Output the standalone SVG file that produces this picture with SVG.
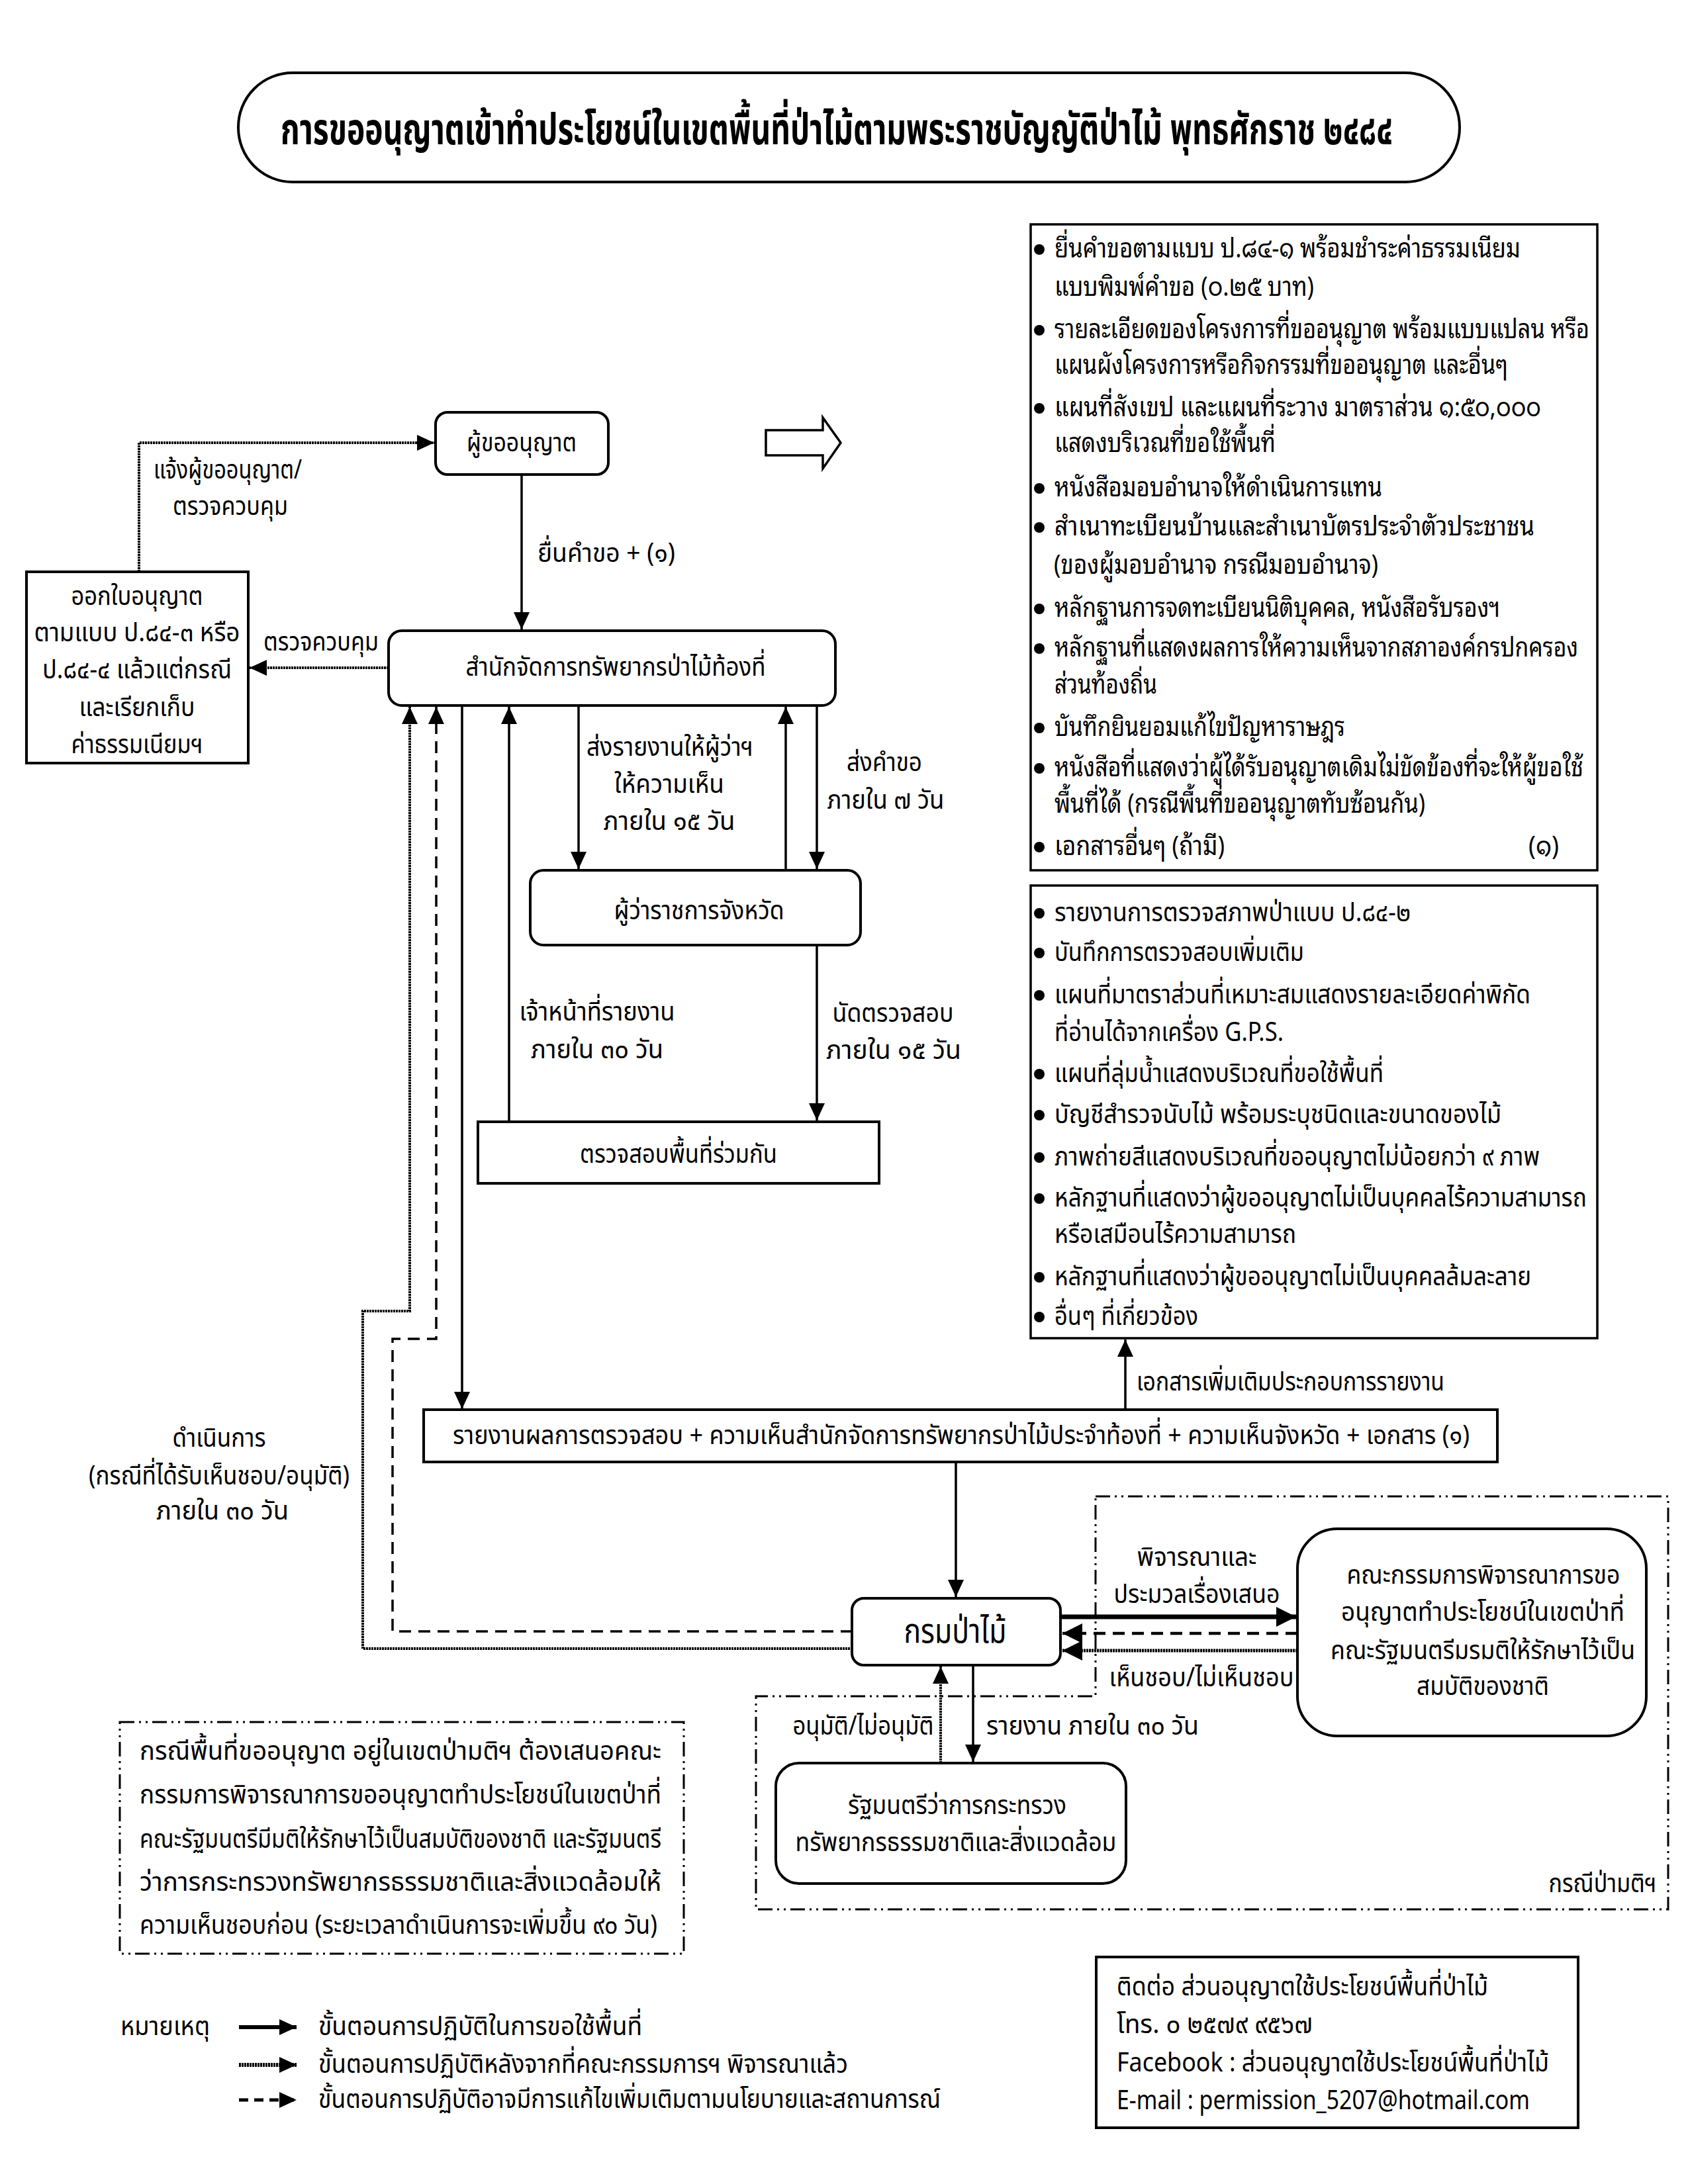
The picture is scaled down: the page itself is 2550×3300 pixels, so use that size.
<svg xmlns="http://www.w3.org/2000/svg" width="2550" height="3300" viewBox="0 0 2550 3300">
<style>
text{font-family:"Noto Sans Thai","Noto Sans Thai UI","Noto Sans Thai Looped","Noto Sans","DejaVu Sans",sans-serif;font-size:40px;fill:#000}
.lp{font-family:"Noto Sans Thai Looped","Noto Serif Thai","Noto Sans Thai","Noto Sans","DejaVu Sans",sans-serif}
.c{text-anchor:middle}
.box{fill:#fff;stroke:#000;stroke-width:4}
.dd{fill:none;stroke:#000;stroke-width:3;stroke-dasharray:22 7 3 7 3 7}
.s{fill:none;stroke:#000;stroke-width:3.5}
.d{fill:none;stroke:#000;stroke-width:3.5;stroke-dasharray:18 11}
.o{fill:none;stroke:#000;stroke-width:4;stroke-dasharray:3 1}
</style>
<defs>
<marker id="ah" markerUnits="userSpaceOnUse" markerWidth="26" markerHeight="24" refX="26" refY="12" orient="auto"><path d="M0,0 L26,12 L0,24 z" fill="#000"/></marker>
<marker id="ahL" markerUnits="userSpaceOnUse" markerWidth="30" markerHeight="30" refX="30" refY="15" orient="auto"><path d="M0,0 L30,15 L0,30 z" fill="#000"/></marker>
</defs>
<rect width="2550" height="3300" fill="#fff"/>

<g id="title">
<rect x="360" y="110" width="1845" height="165" rx="82" class="box"/>
<text x="1264" y="218" class="c" style="font-size:66px;font-weight:bold" textLength="1680" lengthAdjust="spacingAndGlyphs">การขออนุญาตเข้าทำประโยชน์ในเขตพื้นที่ป่าไม้ตามพระราชบัญญัติป่าไม้ พุทธศักราช ๒๔๘๔</text>
</g>

<g id="connectors">
<path class="o" d="M210,864 V669 H656" marker-end="url(#ah)"/>
<path class="s" d="M788,717 V951" marker-end="url(#ah)"/>
<path class="o" d="M587,1009 H377" marker-end="url(#ah)"/>
<path class="o" d="M1288,2491 H548 V1981 H619 V1068" marker-end="url(#ah)"/>
<path class="d" d="M1288,2465 H593 V2023 H659 V1068" marker-end="url(#ah)"/>
<path class="s" d="M698,1066 V2129" marker-end="url(#ah)"/>
<path class="s" d="M769,1695 V1068" marker-end="url(#ah)"/>
<path class="s" d="M874,1066 V1313" marker-end="url(#ah)"/>
<path class="s" d="M1187,1315 V1068" marker-end="url(#ah)"/>
<path class="s" d="M1234,1066 V1313" marker-end="url(#ah)"/>
<path class="s" d="M1234,1428 V1693" marker-end="url(#ah)"/>
<path class="s" d="M1700,2129 V2024" marker-end="url(#ah)"/>
<path class="s" d="M1444,2209 V2413" marker-end="url(#ah)"/>
<path class="s" d="M1603,2443 H1958" style="stroke-width:7" marker-end="url(#ahL)"/>
<path class="d" d="M1960,2468 H1605" style="stroke-width:4.5" marker-end="url(#ahL)"/>
<path class="o" d="M1960,2494 H1605" style="stroke-width:5" marker-end="url(#ahL)"/>
<path class="o" d="M1421,2664 V2518" marker-end="url(#ah)"/>
<path class="s" d="M1470,2516 V2662" marker-end="url(#ah)"/>
</g>

<g id="arrow-hollow">
<polygon points="1157,650 1243,650 1243,631 1270,669 1243,708 1243,688 1157,688" fill="#fff" stroke="#000" stroke-width="3.5"/>
</g>

<g id="n-applicant">
<rect x="658" y="623" width="261" height="94" rx="18" class="box"/>
<text x="788" y="682" class="c" textLength="166" lengthAdjust="spacingAndGlyphs">ผู้ขออนุญาต</text>
</g>

<g id="n-issue">
<rect x="40" y="864" width="335" height="289" class="box"/>
<text x="207" y="914" class="c" textLength="199" lengthAdjust="spacingAndGlyphs">ออกใบอนุญาต</text>
<text x="207" y="969" class="c" textLength="311" lengthAdjust="spacingAndGlyphs">ตามแบบ ป.๘๔-๓ หรือ</text>
<text x="207" y="1025" class="c" textLength="286" lengthAdjust="spacingAndGlyphs">ป.๘๔-๔ แล้วแต่กรณี</text>
<text x="207" y="1082" class="c" textLength="175" lengthAdjust="spacingAndGlyphs">และเรียกเก็บ</text>
<text x="207" y="1138" class="c" textLength="199" lengthAdjust="spacingAndGlyphs">ค่าธรรมเนียมฯ</text>
</g>

<g id="n-office">
<rect x="587" y="953" width="675" height="113" rx="20" class="box"/>
<text x="930" y="1021" class="c" textLength="453" lengthAdjust="spacingAndGlyphs">สำนักจัดการทรัพยากรป่าไม้ท้องที่</text>
</g>

<g id="n-governor">
<rect x="801" y="1315" width="499" height="113" rx="20" class="box"/>
<text x="1056" y="1389" class="c" textLength="257" lengthAdjust="spacingAndGlyphs">ผู้ว่าราชการจังหวัด</text>
</g>

<g id="n-inspect">
<rect x="722" y="1695" width="606" height="93" class="box"/>
<text x="1025" y="1757" class="c" textLength="298" lengthAdjust="spacingAndGlyphs">ตรวจสอบพื้นที่ร่วมกัน</text>
</g>

<g id="n-report">
<rect x="640" y="2130" width="1622" height="79" class="box"/>
<text x="684" y="2182" textLength="1536" lengthAdjust="spacingAndGlyphs">รายงานผลการตรวจสอบ + ความเห็นสำนักจัดการทรัพยากรป่าไม้ประจำท้องที่ + ความเห็นจังหวัด + เอกสาร (๑)</text>
</g>

<g id="n-dept">
<rect x="1287" y="2415" width="315" height="101" rx="18" class="box"/>
<text x="1443" y="2482" class="c" style="font-size:52px" textLength="155" lengthAdjust="spacingAndGlyphs">กรมป่าไม้</text>
</g>

<g id="region-cabinet">
<path class="dd" d="M1655,2261 H2520 V2885 H1142 V2563 H1655 Z"/>
<text x="2421" y="2859" class="c" textLength="163" lengthAdjust="spacingAndGlyphs">กรณีป่ามติฯ</text>
</g>

<g id="n-committee">
<rect x="1960" y="2310" width="527" height="313" rx="60" class="box"/>
<text x="2241" y="2393" class="c" textLength="413" lengthAdjust="spacingAndGlyphs">คณะกรรมการพิจารณาการขอ</text>
<text x="2240" y="2449" class="c" textLength="428" lengthAdjust="spacingAndGlyphs">อนุญาตทำประโยชน์ในเขตป่าที่</text>
<text x="2240" y="2507" class="c" textLength="460" lengthAdjust="spacingAndGlyphs">คณะรัฐมนตรีมรมติให้รักษาไว้เป็น</text>
<text x="2240" y="2561" class="c" textLength="200" lengthAdjust="spacingAndGlyphs">สมบัติของชาติ</text>
</g>

<g id="n-minister">
<rect x="1172" y="2664" width="529" height="182" rx="35" class="box"/>
<text x="1446" y="2741" class="c" textLength="330" lengthAdjust="spacingAndGlyphs">รัฐมนตรีว่าการกระทรวง</text>
<text x="1444" y="2797" class="c" textLength="485" lengthAdjust="spacingAndGlyphs">ทรัพยากรธรรมชาติและสิ่งแวดล้อม</text>
</g>

<g id="labels">
<text x="344" y="723" class="c" textLength="224" lengthAdjust="spacingAndGlyphs">แจ้งผู้ขออนุญาต/</text>
<text x="348" y="778" class="c" textLength="174" lengthAdjust="spacingAndGlyphs">ตรวจควบคุม</text>
<text x="812" y="849" textLength="208" lengthAdjust="spacingAndGlyphs">ยื่นคำขอ + (๑)</text>
<text x="485" y="983" class="c" textLength="174" lengthAdjust="spacingAndGlyphs">ตรวจควบคุม</text>
<text x="1012" y="1142" class="c" textLength="252" lengthAdjust="spacingAndGlyphs">ส่งรายงานให้ผู้ว่าฯ</text>
<text x="1011" y="1198" class="c" textLength="166" lengthAdjust="spacingAndGlyphs">ให้ความเห็น</text>
<text x="1011" y="1254" class="c" textLength="199" lengthAdjust="spacingAndGlyphs">ภายใน ๑๕ วัน</text>
<text x="1336" y="1165" class="c" textLength="114" lengthAdjust="spacingAndGlyphs">ส่งคำขอ</text>
<text x="1338" y="1222" class="c" textLength="177" lengthAdjust="spacingAndGlyphs">ภายใน ๗ วัน</text>
<text x="902" y="1542" class="c" textLength="235" lengthAdjust="spacingAndGlyphs">เจ้าหน้าที่รายงาน</text>
<text x="902" y="1599" class="c" textLength="200" lengthAdjust="spacingAndGlyphs">ภายใน ๓๐ วัน</text>
<text x="1349" y="1544" class="c" textLength="183" lengthAdjust="spacingAndGlyphs">นัดตรวจสอบ</text>
<text x="1350" y="1600" class="c" textLength="204" lengthAdjust="spacingAndGlyphs">ภายใน ๑๕ วัน</text>
<text x="331" y="2186" class="c" textLength="141" lengthAdjust="spacingAndGlyphs">ดำเนินการ</text>
<text x="331" y="2243" class="c" textLength="394" lengthAdjust="spacingAndGlyphs">(กรณีที่ได้รับเห็นชอบ/อนุมัติ)</text>
<text x="336" y="2296" class="c" textLength="200" lengthAdjust="spacingAndGlyphs">ภายใน ๓๐ วัน</text>
<text x="1717" y="2101" textLength="465" lengthAdjust="spacingAndGlyphs">เอกสารเพิ่มเติมประกอบการรายงาน</text>
<text x="1808" y="2366" class="c" textLength="181" lengthAdjust="spacingAndGlyphs">พิจารณาและ</text>
<text x="1808" y="2422" class="c" textLength="251" lengthAdjust="spacingAndGlyphs">ประมวลเรื่องเสนอ</text>
<text x="1815" y="2548" class="c" textLength="279" lengthAdjust="spacingAndGlyphs">เห็นชอบ/ไม่เห็นชอบ</text>
<text x="1304" y="2621" class="c" textLength="213" lengthAdjust="spacingAndGlyphs">อนุมัติ/ไม่อนุมัติ</text>
<text x="1490" y="2621" textLength="321" lengthAdjust="spacingAndGlyphs">รายงาน ภายใน ๓๐ วัน</text>
</g>

<g id="n-docs1">
<rect x="1557" y="339" width="856" height="976" fill="#fff" stroke="#000" stroke-width="3.5"/>
<g fill="#000">
<circle cx="1570" cy="377" r="8"/><circle cx="1570" cy="499" r="8"/><circle cx="1570" cy="617" r="8"/><circle cx="1570" cy="738" r="8"/><circle cx="1570" cy="797" r="8"/><circle cx="1570" cy="920" r="8"/><circle cx="1570" cy="980" r="8"/><circle cx="1570" cy="1100" r="8"/><circle cx="1570" cy="1161" r="8"/><circle cx="1570" cy="1280" r="8"/>
</g>
<text class="lp" x="1593" y="389" textLength="704" lengthAdjust="spacingAndGlyphs">ยื่นคำขอตามแบบ ป.๘๔-๑ พร้อมชำระค่าธรรมเนียม</text>
<text class="lp" x="1593" y="447" textLength="392" lengthAdjust="spacingAndGlyphs">แบบพิมพ์คำขอ (๐.๒๕ บาท)</text>
<text class="lp" x="1593" y="511" textLength="808" lengthAdjust="spacingAndGlyphs">รายละเอียดของโครงการที่ขออนุญาต พร้อมแบบแปลน หรือ</text>
<text class="lp" x="1593" y="565" textLength="685" lengthAdjust="spacingAndGlyphs">แผนผังโครงการหรือกิจกรรมที่ขออนุญาต และอื่นๆ</text>
<text class="lp" x="1593" y="629" textLength="735" lengthAdjust="spacingAndGlyphs">แผนที่สังเขป และแผนที่ระวาง มาตราส่วน ๑:๕๐,๐๐๐</text>
<text class="lp" x="1593" y="683" textLength="334" lengthAdjust="spacingAndGlyphs">แสดงบริเวณที่ขอใช้พื้นที่</text>
<text class="lp" x="1593" y="750" textLength="495" lengthAdjust="spacingAndGlyphs">หนังสือมอบอำนาจให้ดำเนินการแทน</text>
<text class="lp" x="1593" y="809" textLength="725" lengthAdjust="spacingAndGlyphs">สำเนาทะเบียนบ้านและสำเนาบัตรประจำตัวประชาชน</text>
<text class="lp" x="1592" y="867" textLength="490" lengthAdjust="spacingAndGlyphs">(ของผู้มอบอำนาจ กรณีมอบอำนาจ)</text>
<text class="lp" x="1593" y="932" textLength="673" lengthAdjust="spacingAndGlyphs">หลักฐานการจดทะเบียนนิติบุคคล, หนังสือรับรองฯ</text>
<text class="lp" x="1593" y="992" textLength="791" lengthAdjust="spacingAndGlyphs">หลักฐานที่แสดงผลการให้ความเห็นจากสภาองค์กรปกครอง</text>
<text class="lp" x="1593" y="1048" textLength="155" lengthAdjust="spacingAndGlyphs">ส่วนท้องถิ่น</text>
<text class="lp" x="1593" y="1112" textLength="439" lengthAdjust="spacingAndGlyphs">บันทึกยินยอมแก้ไขปัญหาราษฎร</text>
<text class="lp" x="1593" y="1173" textLength="799" lengthAdjust="spacingAndGlyphs">หนังสือที่แสดงว่าผู้ได้รับอนุญาตเดิมไม่ขัดข้องที่จะให้ผู้ขอใช้</text>
<text class="lp" x="1593" y="1228" textLength="560" lengthAdjust="spacingAndGlyphs">พื้นที่ได้ (กรณีพื้นที่ขออนุญาตทับซ้อนกัน)</text>
<text class="lp" x="1593" y="1292" textLength="257" lengthAdjust="spacingAndGlyphs">เอกสารอื่นๆ (ถ้ามี)</text>
<text class="lp" x="2309" y="1292" textLength="46" lengthAdjust="spacingAndGlyphs">(๑)</text>
</g>

<g id="n-docs2">
<rect x="1557" y="1338" width="856" height="684" fill="#fff" stroke="#000" stroke-width="3.5"/>
<g fill="#000">
<circle cx="1570" cy="1380" r="8"/><circle cx="1570" cy="1440" r="8"/><circle cx="1570" cy="1504" r="8"/><circle cx="1570" cy="1623" r="8"/><circle cx="1570" cy="1685" r="8"/><circle cx="1570" cy="1749" r="8"/><circle cx="1570" cy="1811" r="8"/><circle cx="1570" cy="1930" r="8"/><circle cx="1570" cy="1990" r="8"/>
</g>
<text x="1593" y="1392" textLength="538" lengthAdjust="spacingAndGlyphs">รายงานการตรวจสภาพป่าแบบ ป.๘๔-๒</text>
<text x="1593" y="1452" textLength="377" lengthAdjust="spacingAndGlyphs">บันทึกการตรวจสอบเพิ่มเติม</text>
<text x="1593" y="1516" textLength="719" lengthAdjust="spacingAndGlyphs">แผนที่มาตราส่วนที่เหมาะสมแสดงรายละเอียดค่าพิกัด</text>
<text x="1593" y="1573" textLength="346" lengthAdjust="spacingAndGlyphs">ที่อ่านได้จากเครื่อง G.P.S.</text>
<text x="1593" y="1635" textLength="497" lengthAdjust="spacingAndGlyphs">แผนที่ลุ่มน้ำแสดงบริเวณที่ขอใช้พื้นที่</text>
<text x="1593" y="1697" textLength="675" lengthAdjust="spacingAndGlyphs">บัญชีสำรวจนับไม้ พร้อมระบุชนิดและขนาดของไม้</text>
<text x="1593" y="1761" textLength="733" lengthAdjust="spacingAndGlyphs">ภาพถ่ายสีแสดงบริเวณที่ขออนุญาตไม่น้อยกว่า ๙ ภาพ</text>
<text x="1593" y="1823" textLength="804" lengthAdjust="spacingAndGlyphs">หลักฐานที่แสดงว่าผู้ขออนุญาตไม่เป็นบุคคลไร้ความสามารถ</text>
<text x="1593" y="1878" textLength="365" lengthAdjust="spacingAndGlyphs">หรือเสมือนไร้ความสามารถ</text>
<text x="1593" y="1942" textLength="720" lengthAdjust="spacingAndGlyphs">หลักฐานที่แสดงว่าผู้ขออนุญาตไม่เป็นบุคคลล้มละลาย</text>
<text x="1593" y="2002" textLength="217" lengthAdjust="spacingAndGlyphs">อื่นๆ ที่เกี่ยวข้อง</text>
</g>

<g id="n-note">
<rect x="181" y="2602" width="852" height="350" class="dd"/>
<text x="211" y="2659" textLength="788" lengthAdjust="spacingAndGlyphs">กรณีพื้นที่ขออนุญาต อยู่ในเขตป่ามติฯ ต้องเสนอคณะ</text>
<text x="211" y="2725" textLength="788" lengthAdjust="spacingAndGlyphs">กรรมการพิจารณาการขออนุญาตทำประโยชน์ในเขตป่าที่</text>
<text x="211" y="2792" textLength="788" lengthAdjust="spacingAndGlyphs">คณะรัฐมนตรีมีมติให้รักษาไว้เป็นสมบัติของชาติ และรัฐมนตรี</text>
<text x="211" y="2857" textLength="788" lengthAdjust="spacingAndGlyphs">ว่าการกระทรวงทรัพยากรธรรมชาติและสิ่งแวดล้อมให้</text>
<text x="211" y="2922" textLength="782" lengthAdjust="spacingAndGlyphs">ความเห็นชอบก่อน (ระยะเวลาดำเนินการจะเพิ่มขึ้น ๙๐ วัน)</text>
</g>

<g id="legend">
<text x="182" y="3075" textLength="135" lengthAdjust="spacingAndGlyphs">หมายเหตุ</text>
<path class="s" d="M361,3063 H448" style="stroke-width:6" marker-end="url(#ah)"/>
<path class="o" d="M361,3120 H448" style="stroke-width:6" marker-end="url(#ah)"/>
<path class="d" d="M361,3173 H448" style="stroke-width:5;stroke-dasharray:14 9" marker-end="url(#ah)"/>
<text x="481" y="3075" textLength="489" lengthAdjust="spacingAndGlyphs">ขั้นตอนการปฏิบัติในการขอใช้พื้นที่</text>
<text x="481" y="3132" textLength="800" lengthAdjust="spacingAndGlyphs">ขั้นตอนการปฏิบัติหลังจากที่คณะกรรมการฯ พิจารณาแล้ว</text>
<text x="481" y="3185" textLength="940" lengthAdjust="spacingAndGlyphs">ขั้นตอนการปฏิบัติอาจมีการแก้ไขเพิ่มเติมตามนโยบายและสถานการณ์</text>
</g>

<g id="n-contact">
<rect x="1656" y="2957" width="728" height="258" class="box"/>
<text x="1687" y="3015" textLength="561" lengthAdjust="spacingAndGlyphs">ติดต่อ ส่วนอนุญาตใช้ประโยชน์พื้นที่ป่าไม้</text>
<text x="1687" y="3072" textLength="296" lengthAdjust="spacingAndGlyphs">โทร. ๐ ๒๕๗๙ ๙๕๖๗</text>
<text x="1687" y="3130" textLength="653" lengthAdjust="spacingAndGlyphs">Facebook : ส่วนอนุญาตใช้ประโยชน์พื้นที่ป่าไม้</text>
<text x="1687" y="3187" textLength="624" lengthAdjust="spacingAndGlyphs">E-mail : permission_5207@hotmail.com</text>
</g>
</svg>
